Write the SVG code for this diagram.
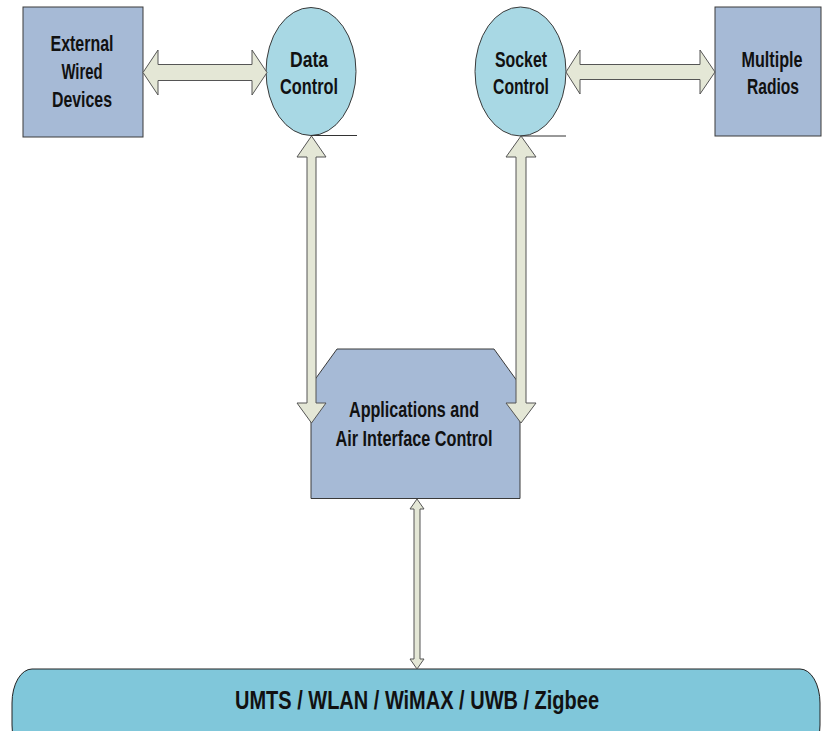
<svg xmlns="http://www.w3.org/2000/svg" width="822" height="731" viewBox="0 0 822 731">
<style>
.box{fill:#a6bad6;stroke:#3a3a3a;stroke-width:1}
.ell{fill:#a8d8e4;stroke:#3a3a3a;stroke-width:1}
.pill{fill:#80c7da;stroke:#222;stroke-width:1}
.arr{fill:#e4e7d6;stroke:#555;stroke-width:1;stroke-linejoin:miter}
.t{font-family:"Liberation Sans Narrow","Liberation Sans",Arial,sans-serif;font-weight:bold;font-size:22.5px;fill:#111;text-anchor:middle}
.big{font-size:26px}
.base{stroke:#333;stroke-width:1}
</style>
<rect width="822" height="731" fill="#ffffff"/>
<g id="external-wired-devices">
<rect class="box" x="23" y="7" width="120" height="130"/>
<text class="t" x="82" y="51" textLength="63" lengthAdjust="spacingAndGlyphs">External</text>
<text class="t" x="82" y="79" textLength="41" lengthAdjust="spacingAndGlyphs">Wired</text>
<text class="t" x="82" y="107" textLength="60" lengthAdjust="spacingAndGlyphs">Devices</text>
</g>
<g id="data-control">
<ellipse class="ell" cx="311" cy="71.5" rx="45" ry="64"/>
<line class="base" x1="311" y1="135.5" x2="357" y2="135.5"/>
<text class="t" x="309" y="67" textLength="38" lengthAdjust="spacingAndGlyphs">Data</text>
<text class="t" x="309" y="94" textLength="58" lengthAdjust="spacingAndGlyphs">Control</text>
</g>
<g id="socket-control">
<ellipse class="ell" cx="520.5" cy="71.5" rx="45.5" ry="64.5"/>
<line class="base" x1="520" y1="136" x2="566" y2="136"/>
<text class="t" x="521" y="67" textLength="52" lengthAdjust="spacingAndGlyphs">Socket</text>
<text class="t" x="521" y="94" textLength="56" lengthAdjust="spacingAndGlyphs">Control</text>
</g>
<g id="multiple-radios">
<rect class="box" x="715" y="7" width="106" height="129"/>
<text class="t" x="772" y="67" textLength="61" lengthAdjust="spacingAndGlyphs">Multiple</text>
<text class="t" x="773" y="94" textLength="52" lengthAdjust="spacingAndGlyphs">Radios</text>
</g>
<g id="applications-air-interface-control">
<polygon class="box" points="337,349 494,349 520,385 520,498.5 311,498.5 311,385"/>
<text class="t" x="414" y="417" textLength="130" lengthAdjust="spacingAndGlyphs">Applications and</text>
<text class="t" x="414" y="446" textLength="157" lengthAdjust="spacingAndGlyphs">Air Interface Control</text>
</g>
<g id="radio-technologies">
<rect class="pill" x="12" y="669" width="808" height="90" rx="20" ry="34"/>
<text class="t big" x="417" y="709" textLength="364" lengthAdjust="spacingAndGlyphs">UMTS / WLAN / WiMAX / UWB / Zigbee</text>
</g>
<g id="connectors">
<polygon class="arr" points="143,72.5 158,50 158,64.5 252,64.5 252,50 267,72.5 252,95 252,80.5 158,80.5 158,95"/>
<polygon class="arr" points="566,72 580,50 580,64.5 700,64.5 700,50 715,72 700,94 700,79.5 580,79.5 580,94"/>
<polygon class="arr" points="311.5,136 326,157 316,157 316,403 326,403 311.5,423 297,403 307,403 307,157 297,157"/>
<polygon class="arr" points="521,136 536,157 526,157 526,403 536,403 521,423 506,403 516,403 516,157 506,157"/>
<polygon class="arr" points="417,499 424,509 420,509 420,659 424,659 417,669 410,659 414,659 414,509 410,509"/>
</g>
</svg>
